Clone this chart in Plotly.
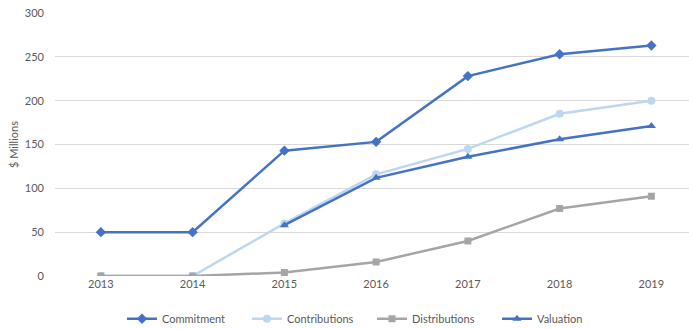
import plotly.graph_objects as go

years = ["2013", "2014", "2015", "2016", "2017", "2018", "2019"]
commitment = [50, 50, 143, 153, 228, 253, 263]
contributions = [0, 0, 60, 116, 145, 185, 200]
distributions = [0, 0, 4, 16, 40, 77, 91]
valuation = [None, None, 58, 112, 136, 156, 171]

series = [
    ("Commitment", commitment, "#4472C4", "diamond", 8),
    ("Contributions", contributions, "#BDD7EE", "circle", 8),
    ("Distributions", distributions, "#A5A5A5", "square", 7),
    ("Valuation", valuation, "#4472C4", "triangle-up", 8),
]

fig = go.Figure()
for name, vals, color, symbol, size in series:
    fig.add_trace(go.Scatter(
        x=list(range(len(years))), y=vals, name=name, mode="lines+markers",
        line=dict(color=color, width=2.5),
        marker=dict(symbol=symbol, size=size, color=color),
        connectgaps=False,
    ))

font = dict(family="Lato, Carlito, Calibri, sans-serif", size=11, color="#595959")
fig.update_layout(
    width=689, height=329,
    margin=dict(l=55, r=0, t=13, b=53),
    paper_bgcolor="white", plot_bgcolor="white",
    font=font,
    showlegend=True,
    legend=dict(orientation="h", xref="paper", x=0.50, xanchor="center",
                yref="container", y=0.031, yanchor="middle",
                entrywidth=80, font=dict(size=11, color="#595959")),
)
fig.update_xaxes(
    tickmode="array", tickvals=list(range(len(years))), ticktext=years,
    range=[-0.5, 6.41], showgrid=False, zeroline=False, showline=False,
    ticks="", tickfont=font,
)
fig.update_yaxes(
    range=[0, 300], tickvals=[0, 50, 100, 150, 200, 250, 300],
    showgrid=True, gridcolor="#D9D9D9", gridwidth=1, zeroline=False,
    showline=False, ticks="", ticklabelstandoff=10, tickfont=font,
    title=dict(text="$ Millions", font=font, standoff=4),
)
fig.write_html("out.html")
